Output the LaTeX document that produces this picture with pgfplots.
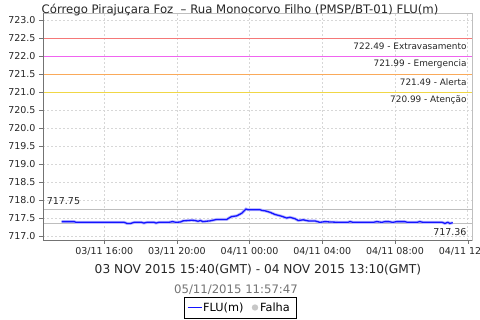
\documentclass[border=0pt]{standalone}
\usepackage{fontspec}
\setmainfont{DejaVu Sans}
\usepackage{pgfplots}
\pgfplotsset{compat=1.18}
\definecolor{extrav}{RGB}{245,120,120}
\definecolor{emerg}{RGB}{240,100,240}
\definecolor{alerta}{RGB}{250,170,90}
\definecolor{atenc}{RGB}{240,215,70}
\definecolor{gridc}{RGB}{215,215,215}
\definecolor{mmline}{RGB}{190,190,190}
\definecolor{flu}{RGB}{20,20,255}
\begin{document}
\begin{tikzpicture}
\useasboundingbox (0,0) rectangle (480bp,320bp);
\begin{axis}[
  at={(43bp,80bp)}, anchor=south west,
  scale only axis, width=429bp, height=227bp,
  xmin=12.63, xmax=36.24, ymin=716.9, ymax=723.2,
  xtick={16,20,24,28,32,36},
  xticklabels={03/11 16:00,03/11 20:00,04/11 00:00,04/11 04:00,04/11 08:00,04/11 12:00},
  ytick={717,717.5,...,723},
  yticklabel style={/pgf/number format/.cd,fixed,fixed zerofill,precision=1},
  /pgf/number format/assume math mode=true,
  tick label style={font=\fontsize{9.5bp}{11bp}\selectfont, color=black!85},
  xtick pos=left, ytick pos=left, tick align=outside,
  major tick length=4bp,
  tick style={color=black!55},
  grid=major, major grid style={gridc, dash pattern=on 2bp off 2bp, line width=0.5bp},
  axis line style={draw=black!25},
  clip=false,
]
% threshold lines
\addplot[extrav, line width=0.8bp, forget plot] coordinates {(12.63,722.49) (36.24,722.49)};
\addplot[emerg, line width=0.8bp, forget plot] coordinates {(12.63,721.99) (36.24,721.99)};
\addplot[alerta, line width=0.8bp, forget plot] coordinates {(12.63,721.49) (36.24,721.49)};
\addplot[atenc, line width=0.8bp, forget plot] coordinates {(12.63,720.99) (36.24,720.99)};
% max / min lines
\addplot[mmline, line width=0.8bp, forget plot] coordinates {(12.63,717.75) (36.24,717.75)};
\addplot[mmline, line width=0.8bp, forget plot] coordinates {(12.63,717.36) (36.24,717.36)};
% data
\addplot[blue!25, line width=3bp, forget plot] coordinates {
(13.66,717.41) (14.35,717.41) (14.45,717.39) (17.10,717.39) (17.25,717.36) (17.45,717.36) (17.65,717.39)
(18.05,717.39) (18.18,717.37) (18.35,717.39) (18.75,717.39) (18.85,717.37) (19.00,717.39)
(19.55,717.39) (19.76,717.41) (19.95,717.39) (20.20,717.40) (20.33,717.43) (20.60,717.44)
(20.81,717.45) (21.00,717.44) (21.16,717.42) (21.30,717.44) (21.43,717.41) (21.60,717.42)
(21.82,717.43) (22.00,717.45) (22.19,717.47) (22.74,717.47) (22.90,717.52) (23.01,717.55)
(23.29,717.57) (23.56,717.64) (23.80,717.76) (23.91,717.74) (24.57,717.74) (24.70,717.72)
(24.85,717.71) (25.12,717.67) (25.39,717.61) (25.76,717.56) (26.04,717.51) (26.22,717.53)
(26.50,717.49) (26.68,717.44) (26.95,717.46) (27.23,717.43) (27.60,717.43) (27.87,717.39)
(28.15,717.41) (28.43,717.40) (28.98,717.39) (29.40,717.39) (29.53,717.41) (29.70,717.39)
(30.80,717.39) (31.00,717.41) (31.28,717.39) (31.45,717.41) (31.65,717.41) (31.88,717.39)
(32.10,717.41) (32.54,717.41) (32.70,717.39) (33.20,717.39) (33.37,717.41) (33.55,717.39)
(34.60,717.39) (34.75,717.36) (34.91,717.39) (35.02,717.36) (35.18,717.38)};
\addplot[draw=flu, line width=1.3bp, forget plot] coordinates {
(13.66,717.41) (14.35,717.41) (14.45,717.39) (17.10,717.39) (17.25,717.36) (17.45,717.36) (17.65,717.39)
(18.05,717.39) (18.18,717.37) (18.35,717.39) (18.75,717.39) (18.85,717.37) (19.00,717.39)
(19.55,717.39) (19.76,717.41) (19.95,717.39) (20.20,717.40) (20.33,717.43) (20.60,717.44)
(20.81,717.45) (21.00,717.44) (21.16,717.42) (21.30,717.44) (21.43,717.41) (21.60,717.42)
(21.82,717.43) (22.00,717.45) (22.19,717.47) (22.74,717.47) (22.90,717.52) (23.01,717.55)
(23.29,717.57) (23.56,717.64) (23.80,717.76) (23.91,717.74) (24.57,717.74) (24.70,717.72)
(24.85,717.71) (25.12,717.67) (25.39,717.61) (25.76,717.56) (26.04,717.51) (26.22,717.53)
(26.50,717.49) (26.68,717.44) (26.95,717.46) (27.23,717.43) (27.60,717.43) (27.87,717.39)
(28.15,717.41) (28.43,717.40) (28.98,717.39) (29.40,717.39) (29.53,717.41) (29.70,717.39)
(30.80,717.39) (31.00,717.41) (31.28,717.39) (31.45,717.41) (31.65,717.41) (31.88,717.39)
(32.10,717.41) (32.54,717.41) (32.70,717.39) (33.20,717.39) (33.37,717.41) (33.55,717.39)
(34.60,717.39) (34.75,717.36) (34.91,717.39) (35.02,717.36) (35.18,717.38)};
% axis lines left & bottom darker
\draw[black!55, line width=0.6bp] (rel axis cs:0,0) -- (rel axis cs:0,1);
\draw[black!55, line width=0.6bp] (rel axis cs:0,0) -- (rel axis cs:1,0);
% labels
\begin{scope}[every node/.style={font=\fontsize{8.9bp}{10bp}\selectfont, color=black!85, inner sep=0pt, anchor=east}]
\node at (axis cs:35.95,722.49) [yshift=-7.5bp] {722.49 - Extravasamento};
\node at (axis cs:35.95,721.99) [yshift=-7.5bp] {721.99 - Emergencia};
\node at (axis cs:35.95,721.49) [yshift=-7.5bp] {721.49 - Alerta};
\node at (axis cs:35.95,720.99) [yshift=-7.5bp] {720.99 - Atenção};
\end{scope}
\node[font=\fontsize{9.5bp}{11bp}\selectfont, color=black!85, inner sep=0pt, anchor=west] at (axis cs:12.83,717.75) [yshift=8bp] {717.75};
\node[font=\fontsize{9.5bp}{11bp}\selectfont, color=black!85, inner sep=0pt, anchor=east] at (axis cs:35.95,717.36) [yshift=-8.5bp] {717.36};
\end{axis}
\node[font=\fontsize{11.7bp}{13bp}\selectfont, color=black!85] at (240bp,310bp) {Córrego Pirajuçara Foz \ – Rua Monocorvo Filho (PMSP/BT-01) FLU(m)};
\node[font=\fontsize{12.2bp}{14bp}\selectfont, color=black!85] at (258bp,50bp) {03 NOV 2015 15:40(GMT) - 04 NOV 2015 13:10(GMT)};
\node[font=\fontsize{11.7bp}{13bp}\selectfont, color=black!55] at (236bp,30.5bp) {05/11/2015 11:57:47};
% legend
\draw[black, line width=0.7bp, fill=white] (184.5bp,2bp) rectangle (296.5bp,23bp);
\draw[flu, line width=1.5bp] (187.5bp,12.5bp) -- (201.5bp,12.5bp);
\node[font=\fontsize{11.3bp}{13bp}\selectfont, color=black, anchor=west, inner sep=0pt] at (203bp,12.5bp) {FLU(m)};
\fill[black!22] (255bp,12.5bp) circle (3.2bp);
\node[font=\fontsize{11.3bp}{13bp}\selectfont, color=black, anchor=west, inner sep=0pt] at (260bp,12.5bp) {Falha};
\end{tikzpicture}
\end{document}
